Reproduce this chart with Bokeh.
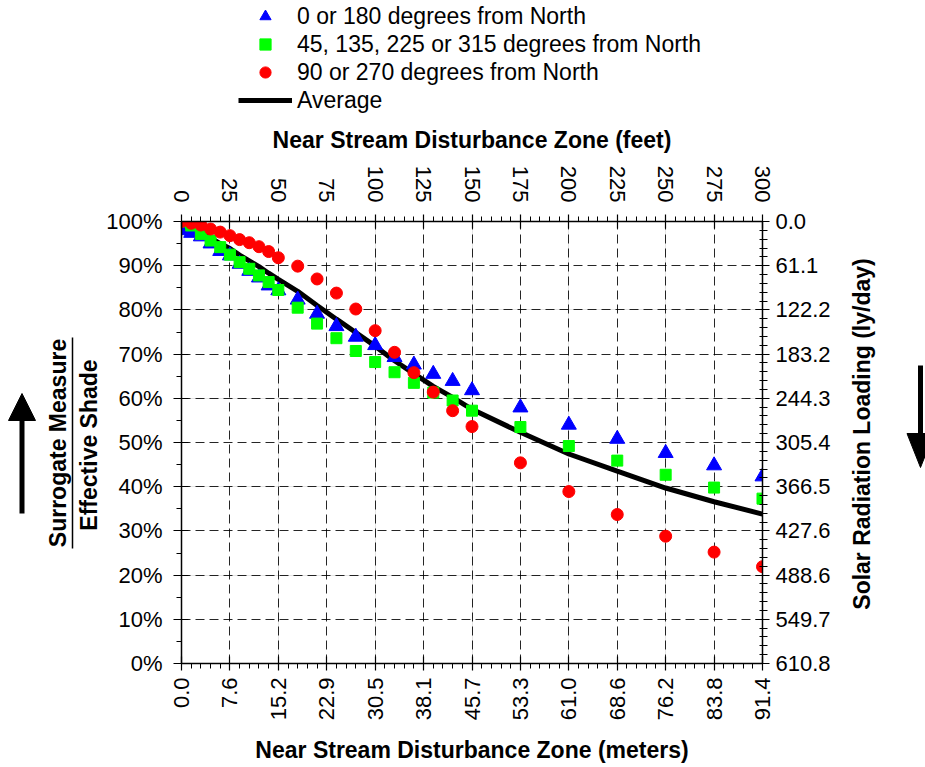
import math
from bokeh.plotting import figure
from bokeh.layouts import row, column
from bokeh.models import (Range1d, LinearAxis, FixedTicker, Grid, Legend, LegendItem,
                          Label, PrintfTickFormatter)
from bokeh.embed import file_html
from bokeh.resources import INLINE

# ---------------- data ----------------
feet = [0, 5, 10, 15, 20, 25, 30, 35, 40, 45, 50, 60, 70, 80, 90, 100,
        110, 120, 130, 140, 150, 175, 200, 225, 250, 275, 300]
shade_0_180 = [98.0, 97.4, 96.6, 95.0, 93.3, 92.3, 90.4, 88.8, 87.3, 85.5, 84.4,
               82.3, 79.1, 76.3, 73.9, 72.0, 69.3, 67.6, 65.5, 63.9, 61.8,
               57.9, 54.0, 50.8, 47.6, 44.8, 42.3]
shade_45_135 = [100.0, 99.1, 97.2, 95.7, 94.2, 92.5, 90.8, 89.3, 87.8, 86.3, 84.5,
                80.5, 76.9, 73.6, 70.7, 68.2, 65.9, 63.5, 61.3, 59.5, 57.2,
                53.5, 49.2, 45.9, 42.7, 39.8, 37.3]
shade_90_270 = [100.0, 99.6, 99.2, 98.3, 97.6, 96.8, 95.9, 95.2, 94.3, 93.2, 91.8,
                89.9, 87.0, 83.8, 80.2, 75.3, 70.4, 65.8, 61.4, 57.2, 53.6,
                45.4, 38.9, 33.7, 28.8, 25.2, 21.9]
shade_avg = [99.3, 98.7, 97.7, 96.3, 95.0, 93.9, 92.4, 91.1, 89.8, 88.3, 86.9,
             84.2, 81.0, 77.9, 74.9, 71.8, 68.5, 65.6, 62.7, 60.2, 57.5,
             52.3, 47.4, 43.5, 39.7, 36.6, 33.8]

series_names = ["0 or 180 degrees from North",
                "45, 135, 225 or 315 degrees from North",
                "90 or 270 degrees from North",
                "Average"]

feet_ticks = [0, 25, 50, 75, 100, 125, 150, 175, 200, 225, 250, 275, 300]
meter_labels = ["0.0", "7.6", "15.2", "22.9", "30.5", "38.1", "45.7", "53.3",
                "61.0", "68.6", "76.2", "83.8", "91.4"]
percent_ticks = [0, 10, 20, 30, 40, 50, 60, 70, 80, 90, 100]
load_labels = ["610.8", "549.7", "488.6", "427.6", "366.5", "305.4", "244.3",
               "183.2", "122.2", "61.1", "0.0"]

left_title = ["Surrogate Measure", "Effective Shade"]
right_title = "Solar Radiation Loading (ly/day)"

FONT = "Liberation Sans"
H = 767
LEFT_W, MAIN_W, RIGHT_W = 100, 740, 85
LEG_H = 118

styles = [dict(marker="triangle", size=15, fill_color="#0000FF", line_color="#0000FF"),
          dict(marker="square", size=11, fill_color="#00FF00", line_color="#00FF00"),
          dict(marker="circle", size=12, fill_color="#FF0000", line_color="#FF0000")]
avg_style = dict(line_color="black", line_width=5)

# ---------------- main figure ----------------
p = figure(width=MAIN_W, height=H - LEG_H, output_backend="svg", toolbar_location=None,
           x_range=Range1d(0, 300), y_range=Range1d(0, 100),
           x_axis_location=None, y_axis_location=None,
           min_border_left=81, min_border_right=78,
           min_border_top=221 - LEG_H, min_border_bottom=104)
p.outline_line_color = None
p.border_fill_color = "white"


def style_axis(ax):
    ax.axis_line_color = "black"
    ax.axis_line_width = 1.5
    ax.major_tick_line_color = "black"
    ax.minor_tick_line_color = "black"
    ax.major_tick_line_width = 1.2
    ax.minor_tick_line_width = 1
    ax.major_label_text_font = FONT
    ax.major_label_text_font_size = "22px"
    ax.major_label_text_color = "black"
    ax.axis_label_text_font = FONT
    ax.axis_label_text_font_size = "23px"
    ax.axis_label_text_font_style = "bold"
    ax.axis_label_text_color = "black"


minor_feet = [v for v in range(0, 301, 5) if v % 25]
minor_pct_left = [v for v in range(5, 100, 10)]
minor_pct_right = [v for v in range(0, 101, 2) if v % 10]

top_ax = LinearAxis(ticker=FixedTicker(ticks=feet_ticks, minor_ticks=minor_feet),
                    axis_label="Near Stream Disturbance Zone (feet)")
style_axis(top_ax)
top_ax.major_label_orientation = -math.pi / 2
top_ax.major_tick_in = 7
top_ax.major_tick_out = 7
top_ax.minor_tick_in = 0
top_ax.minor_tick_out = 5
top_ax.major_label_standoff = 12
top_ax.axis_label_standoff = 10
p.add_layout(top_ax, "above")

bot_ax = LinearAxis(ticker=FixedTicker(ticks=feet_ticks, minor_ticks=minor_feet),
                    axis_label="Near Stream Disturbance Zone (meters)",
                    major_label_overrides={f: m for f, m in zip(feet_ticks, meter_labels)})
style_axis(bot_ax)
bot_ax.major_label_orientation = math.pi / 2
bot_ax.major_tick_in = 7
bot_ax.major_tick_out = 7
bot_ax.minor_tick_in = 0
bot_ax.minor_tick_out = 5
bot_ax.major_label_standoff = 7
bot_ax.axis_label_standoff = 14
p.add_layout(bot_ax, "below")

left_ax = LinearAxis(ticker=FixedTicker(ticks=percent_ticks, minor_ticks=minor_pct_left),
                     formatter=PrintfTickFormatter(format="%d%%"))
style_axis(left_ax)
left_ax.major_tick_in = 7
left_ax.major_tick_out = 8
left_ax.minor_tick_in = 0
left_ax.minor_tick_out = 5
left_ax.major_label_standoff = 11
p.add_layout(left_ax, "left")

right_ax = LinearAxis(ticker=FixedTicker(ticks=percent_ticks, minor_ticks=minor_pct_right),
                      major_label_overrides={t: s for t, s in zip(percent_ticks, load_labels)})
style_axis(right_ax)
right_ax.major_tick_in = 7
right_ax.major_tick_out = 7
right_ax.minor_tick_in = 3
right_ax.minor_tick_out = 5
right_ax.major_label_standoff = 6
p.add_layout(right_ax, "right")

for dim, ax in ((0, top_ax), (1, left_ax)):
    g = Grid(dimension=dim, ticker=ax.ticker, grid_line_color="black",
             grid_line_dash="9 5", grid_line_width=1, grid_line_alpha=0.85)
    p.add_layout(g)

# ---------------- series ----------------
p.line(feet, shade_avg, **avg_style)
for ys, st in zip([shade_0_180, shade_45_135, shade_90_270], styles):
    p.scatter(feet, ys, **st)


# ---------------- helper figures ----------------
def bare_fig(w, h, x0, y0=0):
    f = figure(width=w, height=h, output_backend="svg", toolbar_location=None,
               x_range=Range1d(x0, x0 + w), y_range=Range1d(y0 + h, y0),
               x_axis_location=None, y_axis_location=None,
               min_border=0, min_border_left=0, min_border_right=0,
               min_border_top=0, min_border_bottom=0)
    f.outline_line_color = None
    f.xgrid.visible = False
    f.ygrid.visible = False
    return f


# legend strip above the main figure (swatches share the series styles;
# their single point lies off-range so only the legend shows them)
lg = bare_fig(MAIN_W, LEG_H, LEFT_W)
off = [-10000]
sw = [lg.scatter(x=off, y=off, **st) for st in styles]
sw.append(lg.line(x=off + off, y=off + off, **avg_style))
legend = Legend(items=[LegendItem(label=n, renderers=[r]) for n, r in zip(series_names, sw)],
                location=(57, 4), glyph_width=54, glyph_height=28,
                label_height=28, label_standoff=5, spacing=0, padding=0, margin=0,
                border_line_color=None, background_fill_alpha=0,
                label_text_font=FONT, label_text_font_size="23px",
                label_text_color="black")
lg.add_layout(legend)

lbl = dict(angle=math.pi / 2, text_align="center", text_baseline="middle",
           text_font=FONT, text_font_size="23px", text_font_style="bold",
           text_color="black")

lf = bare_fig(LEFT_W, H, 0)
lf.add_layout(Label(x=57.5, y=442.5, text=left_title[0], **lbl))
lf.add_layout(Label(x=88, y=444.5, text=left_title[1], **lbl))
lf.segment(x0=[72], y0=[337], x1=[72], y1=[548], line_color="black", line_width=1.5)
lf.segment(x0=[21.5], y0=[513], x1=[21.5], y1=[418], line_color="black", line_width=5)
lf.patch(x=[8, 35, 21.5], y=[420, 420, 393], fill_color="black", line_color="black")

rf = bare_fig(RIGHT_W, H, LEFT_W + MAIN_W)
rf.add_layout(Label(x=861, y=433.5, text=right_title, **lbl))
rf.segment(x0=[920], y0=[365], x1=[920], y1=[436], line_color="black", line_width=5)
rf.patch(x=[906.5, 933.5, 920], y=[433, 433, 467], fill_color="black", line_color="black")

layout = row(lf, column(lg, p), rf)
open("out.html", "w").write(file_html(layout, INLINE))
